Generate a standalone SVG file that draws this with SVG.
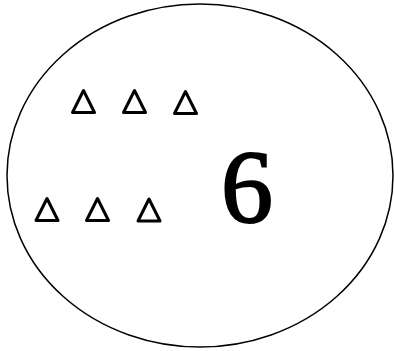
<svg xmlns="http://www.w3.org/2000/svg" width="394" height="351" viewBox="0 0 394 351">
<style>
.tri{fill:none;stroke:#000;stroke-width:3;stroke-linejoin:round}
.num{font-family:"Liberation Serif","Times New Roman",serif;font-size:104px;fill:#000;stroke:#000;stroke-width:2}
</style>
<defs>
<polygon id="t" points="12.5,1.5 1.5,23.5 23.5,23.5"/>
</defs>
<rect width="394" height="351" fill="#fff"/>
<g id="circle">
<ellipse cx="200" cy="175.5" rx="193" ry="171.5" fill="none" stroke="#000" stroke-width="1.5"/>
</g>
<g id="top-row">
<use href="#t" class="tri" x="71" y="89"/>
<use href="#t" class="tri" x="122" y="89"/>
<use href="#t" class="tri" x="173" y="90"/>
</g>
<g id="bottom-row">
<use href="#t" class="tri" x="34.5" y="197"/>
<use href="#t" class="tri" x="85" y="197"/>
<use href="#t" class="tri" x="136.5" y="197.5"/>
</g>
<g id="label">
<text class="num" x="247" y="222" text-anchor="middle">6</text>
</g>
</svg>
